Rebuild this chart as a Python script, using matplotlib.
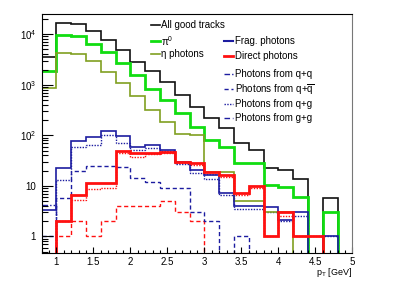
import numpy as np
import matplotlib
matplotlib.use('Agg')
import matplotlib.pyplot as plt
from matplotlib.ticker import FixedLocator, NullFormatter

plt.rcParams['font.family'] = ['Liberation Sans', 'DejaVu Sans']
plt.rcParams['mathtext.fontset'] = 'custom'
plt.rcParams['mathtext.rm'] = 'Liberation Sans'
plt.rcParams['mathtext.it'] = 'Liberation Sans:italic'

# bin edges in pT (GeV)
pt_edges = [0.8, 1.0, 1.2, 1.4, 1.6, 1.8, 2.0, 2.2, 2.4, 2.6, 2.8,
            3.0, 3.2, 3.4, 3.6, 3.8, 4.0, 4.2, 4.4, 4.6, 4.8, 5.0]

all_tracks = [3460, 16600, 16000, 11500, 7600, 4800, 2840, 1860, 1140, 620, 366,
              216, 141, 69, 51, 23, 21, 14, 0, 5.9, 0]
pi0 = [1870, 9500, 9100, 6500, 4350, 2650, 1550, 840, 500, 272, 148,
       81, 60, 29, 29, 10.5, 9.4, 6.0, 0, 3.0, 0]
eta = [845, 4150, 4000, 2930, 1790, 1090, 590, 316, 186, 105, 100,
       19, 19, 5.1, 5.1, 3.0, 3.0, 0, 0, 0, 0]
frag = [3.3, 22.4, 77, 91, 122, 98, 58, 64, 51, 30, 21,
        16.5, 7.4, 4.0, 4.0, 3.9, 2.1, 3.0, 0, 1.0, 0]
direct = [0, 2.0, 6.6, 11.3, 11.3, 49.7, 44, 45, 47, 30, 28,
          19, 16.5, 7.2, 10, 1.0, 3.0, 1.0, 1.0, 0, 0]
frag_qq = [4.2, 0, 0, 0, 0, 0, 0, 0, 0, 0, 0,
           0, 0, 0, 0, 0, 0, 0, 0, 0, 0]
frag_qqbar = [1.0, 5.9, 20, 25, 25, 24, 14.1, 11.8, 9.3, 9.3, 3.1,
              2.0, 0, 1.0, 0, 0, 0, 0, 0, 0, 0]
frag_qg = [0, 13, 58, 64, 100, 72, 51, 55, 48, 27, 18,
           14, 6.5, 3.5, 3.5, 3.0, 2.0, 2.5, 0, 1.0, 0]
frag_gg = [0, 0, 0, 0, 0, 0, 0, 0, 0, 0, 0,
           0, 0, 0, 0, 0, 0, 0, 0, 0, 0]
direct_dashed = [0, 1.0, 2.0, 1.0, 2.0, 4.0, 4.0, 4.0, 5.1, 3.1, 2.0,
                 0, 0, 0, 0, 0, 0, 0, 0, 0, 0]
direct_dotted = [0, 2.0, 5.3, 8.6, 9.0, 45, 38, 42, 45, 28, 26,
                 17, 15, 6.5, 9.0, 1.0, 2.5, 1.0, 1.0, 0, 0]

y_ticks = [1, 10, 100, 1000, 10000]
y_labels = ['1', '10', '$10^{2}$', '$10^{3}$', '$10^{4}$']
x_ticks = [1, 1.5, 2, 2.5, 3, 3.5, 4, 4.5, 5]
x_labels = ['1', '1.5', '2', '2.5', '3', '3.5', '4', '4.5', '5']

black = '#111111'
green = '#11dd11'
olive = '#80a020'
blue = '#1c1ca0'
red = '#ff1010'

fig = plt.figure(figsize=(4.15, 2.81), dpi=100)
ax = fig.add_axes([0.1005, 0.101, 0.7485, 0.849])

def hist(vals, **kw):
    ax.stairs(vals, pt_edges, baseline=None, **kw)

hist(direct_dashed, color=red, lw=1.0, ls=(0, (3, 2)))
hist(direct_dotted, color=red, lw=1.0, ls=(0, (1, 1)))
hist(frag_qq, color=blue, lw=1.0, ls=(0, (4, 1.5, 1, 1.5, 1, 1.5)))
hist(frag_qqbar, color=blue, lw=1.0, ls=(0, (3, 2)))
hist(frag_qg, color=blue, lw=1.0, ls=(0, (1, 1)))
hist(frag_gg, color=blue, lw=1.0, ls=(0, (4, 2, 1, 2)))
hist(all_tracks, color=black, lw=1.2)
hist(pi0, color=green, lw=2.0)
hist(eta, color=olive, lw=1.2)
hist(frag, color=blue, lw=1.2)
hist(direct, color=red, lw=2.0)

ax.set_yscale('log', nonpositive='clip')
ax.set_xlim(0.8, 5.0)
ax.set_ylim(0.48, 2.5e4)

ax.yaxis.set_major_locator(FixedLocator(y_ticks))
ax.set_yticklabels(y_labels)
ax.yaxis.set_minor_locator(FixedLocator(
    [m * 10.0 ** e for e in range(-1, 5) for m in range(2, 10)]))
ax.yaxis.set_minor_formatter(NullFormatter())
ax.xaxis.set_major_locator(FixedLocator(x_ticks))
ax.set_xticklabels(x_labels)
ax.xaxis.set_minor_locator(FixedLocator(
    [0.8 + 0.1 * i for i in range(43)]))

ax.tick_params(axis='y', which='major', direction='in', length=8, width=0.8,
               labelsize=7, pad=4)
ax.tick_params(axis='y', which='minor', direction='in', length=4, width=0.8)
ax.tick_params(axis='x', which='major', direction='in', length=4.5, width=0.8,
               labelsize=7, pad=3)
ax.tick_params(axis='x', which='minor', direction='in', length=2.2, width=0.8)
for s in ax.spines.values():
    s.set_linewidth(0.8)
ax.spines['right'].set_color('#777777')

ax.text(1.0, -0.058, r'$\mathrm{p}_{\mathrm{T}}$ [GeV]', transform=ax.transAxes,
        ha='right', va='top', fontsize=6.5)

def entry(x, y, label, **kw):
    ax.plot([x, x + 0.029], [y, y], transform=ax.transAxes, clip_on=False, **kw)
    ax.text(x + 0.034, y, label, transform=ax.transAxes, ha='left',
            va='center', fontsize=7)

entry(0.351, 0.954, 'All good tracks', color=black, lw=1.2)
entry(0.351, 0.887, 'π$^{0}$', color=green, lw=2.0)
entry(0.351, 0.831, 'η photons', color=olive, lw=1.2)
entry(0.588, 0.887, 'Frag. photons', color=blue, lw=1.5)
entry(0.588, 0.824, 'Direct photons', color=red, lw=2.0)
entry(0.588, 0.749, 'Photons from q+q', color=blue, lw=1.0,
      ls=(0, (4, 1.5, 1, 1.5, 1, 1.5)))
entry(0.588, 0.685, r'Photons from q+$\overline{\mathrm{q}}$', color=blue,
      lw=1.0, ls=(0, (3, 2)))
entry(0.588, 0.623, 'Photons from q+g', color=blue, lw=1.0, ls=(0, (1, 1)))
entry(0.588, 0.563, 'Photons from g+g', color=blue, lw=1.0, ls=(0, (4, 2, 1, 2)))

fig.savefig('out.png', dpi=100)
